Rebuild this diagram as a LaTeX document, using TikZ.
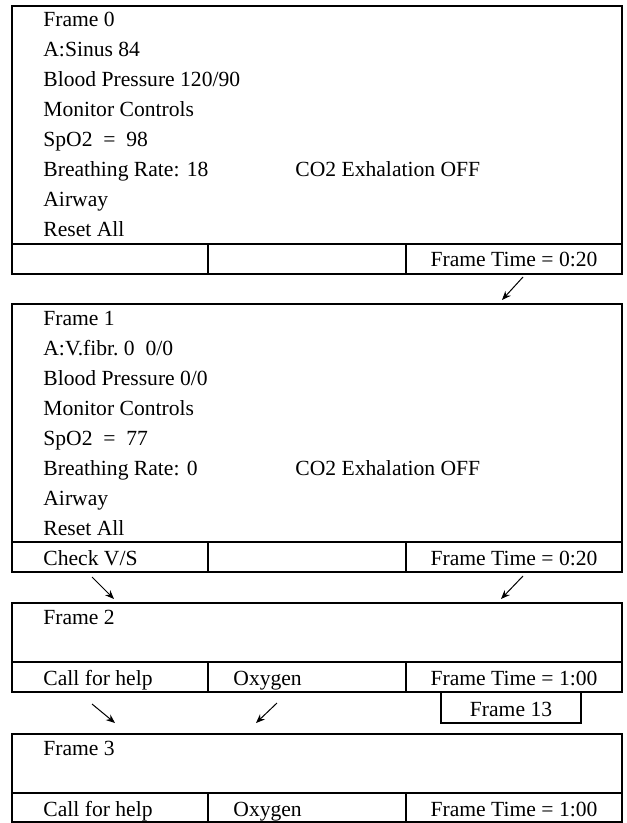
\documentclass[tikz,border=0pt]{standalone}
\usepackage{fontspec}
\setmainfont{Liberation Serif}
\usetikzlibrary{arrows.meta}

\begin{document}
\begin{tikzpicture}[x=.5pt,y=-.5pt,font=\fontsize{10.8}{13}\selectfont,
  box/.style={line width=.6pt,draw=black},
  arr/.style={-{Stealth[length=4.5pt,width=3.6pt]},line width=.5pt},
  txt/.style={anchor=base west,inner sep=0pt},
  cell/.style={anchor=base,inner sep=0pt}]
\path[use as bounding box] (0,0) rectangle (626,823);

% frame outlines: top, line above the button row, bottom
\foreach \n/\t/\r/\b in {0/6/244/274,1/304/542/572,2/603/662/692,3/734/793/822}{
  \draw[box] (12,\t) rectangle (622,\b);
  \draw[box] (12,\r) -- (622,\r);
  \draw[box] (208,\r) -- (208,\b) (406,\r) -- (406,\b);
}

% the two full monitor frames
\foreach \n/\t/\a/\bp/\sp/\br in {0/6/{Sinus 84}/{120/90}/98/18,1/304/{V.fibr.\ 0\ \ 0/0}/{0/0}/77/0}{
  \node[txt] (f\n-1) at (43,\t+21) {Frame \n};
  \node[txt] (f\n-2) at (43,\t+51) {A:\a};
  \node[txt] (f\n-3) at (43,\t+81) {Blood Pressure \bp};
  \node[txt] (f\n-4) at (43,\t+111) {Monitor Controls};
  \node[txt] (f\n-5) at (43,\t+141) {SpO2 \ = \ \sp};
  \node[txt] (f\n-6) at (43,\t+171) {Breathing Rate: \br};
  \node[txt] (f\n-co) at (295,\t+171) {CO2 Exhalation OFF};
  \node[txt] (f\n-7) at (43,\t+201) {Airway};
  \node[txt] (f\n-8) at (43,\t+231) {Reset All};
}
\node[cell] (f0-time) at (514,267) {Frame Time = 0:20};
\node[txt] (f1-check) at (43,565) {Check V/S};
\node[cell] (f1-time) at (514,565) {Frame Time = 0:20};

% short frames with two buttons
\foreach \n/\t/\r in {2/603/685,3/734/816}{
  \node[txt] (f\n-1) at (43,\t+21) {Frame \n};
  \node[txt] (f\n-help) at (43,\r) {Call for help};
  \node[txt] (f\n-oxy) at (233,\r) {Oxygen};
  \node[cell] (f\n-time) at (514,\r) {Frame Time = 1:00};
}
\draw[box] (441,692) rectangle (581,723);
\node[cell] (f13) at (511,716) {Frame 13};

% transitions between frames
\foreach \nm/\xa/\ya/\xb/\yb in {t01/523/277/502/300,t12a/92/577/114/599,t12b/523/576/501/599,
  t23a/92/704/115/723,t23b/277/703/256/723}{
  \coordinate (\nm-s) at (\xa,\ya);
  \coordinate (\nm-e) at (\xb,\yb);
  \draw[arr] (\nm-s) -- (\nm-e);
}
\end{tikzpicture}
\end{document}
